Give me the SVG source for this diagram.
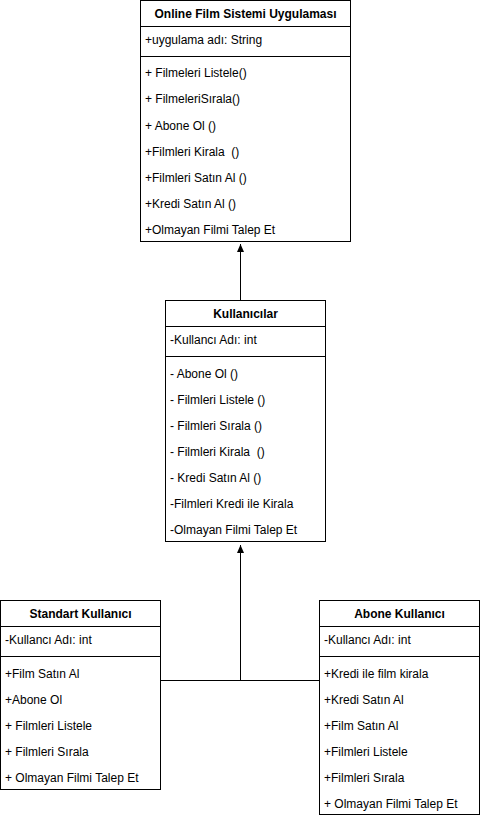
<svg xmlns="http://www.w3.org/2000/svg" width="481" height="820" viewBox="0 0 481 820">
<style>
.box{fill:#fff;stroke:#000;stroke-width:1}
.sep{stroke:#000;stroke-width:1}
text{font-family:"Liberation Sans",Arial,sans-serif;font-size:12px;fill:#000}
.t{font-weight:bold;text-anchor:middle}
.conn{stroke:#000;stroke-width:1;fill:none}
</style>
<defs>
<marker id="arr" markerUnits="userSpaceOnUse" viewBox="0 0 8 7" markerWidth="8" markerHeight="7" refX="8" refY="3.5" orient="auto">
<path d="M0,0 L8,3.5 L0,7 z" fill="#000"/>
</marker>
</defs>
<g id="connectors">
<line class="conn" x1="240.5" y1="300" x2="240.5" y2="244" marker-end="url(#arr)"/>
<polyline class="conn" points="160.5,680.5 319.5,680.5"/>
<line class="conn" x1="240.5" y1="680.5" x2="240.5" y2="545" marker-end="url(#arr)"/>
</g>
<g id="online-film-sistemi">
<rect class="box" x="140.5" y="0.5" width="210" height="241"/>
<line class="sep" x1="140.5" y1="26.5" x2="350.5" y2="26.5"/>
<line class="sep" x1="140.5" y1="56.5" x2="350.5" y2="56.5"/>
<text class="t" x="245.5" y="18">Online Film Sistemi Uygulaması</text>
<text x="145" y="44">+uygulama adı: String</text>
<text x="145" y="77">+ Filmeleri Listele()</text>
<text x="145" y="103">+ FilmeleriSırala()</text>
<text x="145" y="130">+ Abone Ol ()</text>
<text x="145" y="156" xml:space="preserve">+Filmleri Kirala  ()</text>
<text x="145" y="182">+Filmleri Satın Al ()</text>
<text x="145" y="208">+Kredi Satın Al ()</text>
<text x="145" y="234">+Olmayan Filmi Talep Et</text>
</g>
<g id="kullanicilar">
<rect class="box" x="165.5" y="300.5" width="160" height="241"/>
<line class="sep" x1="165.5" y1="326.5" x2="325.5" y2="326.5"/>
<line class="sep" x1="165.5" y1="356.5" x2="325.5" y2="356.5"/>
<text class="t" x="245.5" y="318">Kullanıcılar</text>
<text x="170" y="344">-Kullancı Adı: int</text>
<text x="170" y="378">- Abone Ol ()</text>
<text x="170" y="404">- Filmleri Listele ()</text>
<text x="170" y="430">- Filmleri Sırala ()</text>
<text x="170" y="456" xml:space="preserve">- Filmleri Kirala  ()</text>
<text x="170" y="482">- Kredi Satın Al ()</text>
<text x="170" y="508">-Filmleri Kredi ile Kirala</text>
<text x="170" y="534">-Olmayan Filmi Talep Et</text>
</g>
<g id="standart-kullanici">
<rect class="box" x="0.5" y="600.5" width="160" height="189"/>
<line class="sep" x1="0.5" y1="626.5" x2="160.5" y2="626.5"/>
<line class="sep" x1="0.5" y1="656.5" x2="160.5" y2="656.5"/>
<text class="t" x="80.5" y="618">Standart Kullanıcı</text>
<text x="5" y="644">-Kullancı Adı: int</text>
<text x="5" y="678">+Film Satın Al</text>
<text x="5" y="704">+Abone Ol</text>
<text x="5" y="730">+ Filmleri Listele</text>
<text x="5" y="756">+ Filmleri Sırala</text>
<text x="5" y="782">+ Olmayan Filmi Talep Et</text>
</g>
<g id="abone-kullanici">
<rect class="box" x="319.5" y="600.5" width="160" height="214"/>
<line class="sep" x1="319.5" y1="626.5" x2="479.5" y2="626.5"/>
<line class="sep" x1="319.5" y1="656.5" x2="479.5" y2="656.5"/>
<text class="t" x="399.5" y="618">Abone Kullanıcı</text>
<text x="324" y="644">-Kullancı Adı: int</text>
<text x="324" y="678">+Kredi ile film kirala</text>
<text x="324" y="704">+Kredi Satın Al</text>
<text x="324" y="730">+Film Satın Al</text>
<text x="324" y="756">+Filmleri Listele</text>
<text x="324" y="782">+Filmleri Sırala</text>
<text x="324" y="808">+ Olmayan Filmi Talep Et</text>
</g>
</svg>
